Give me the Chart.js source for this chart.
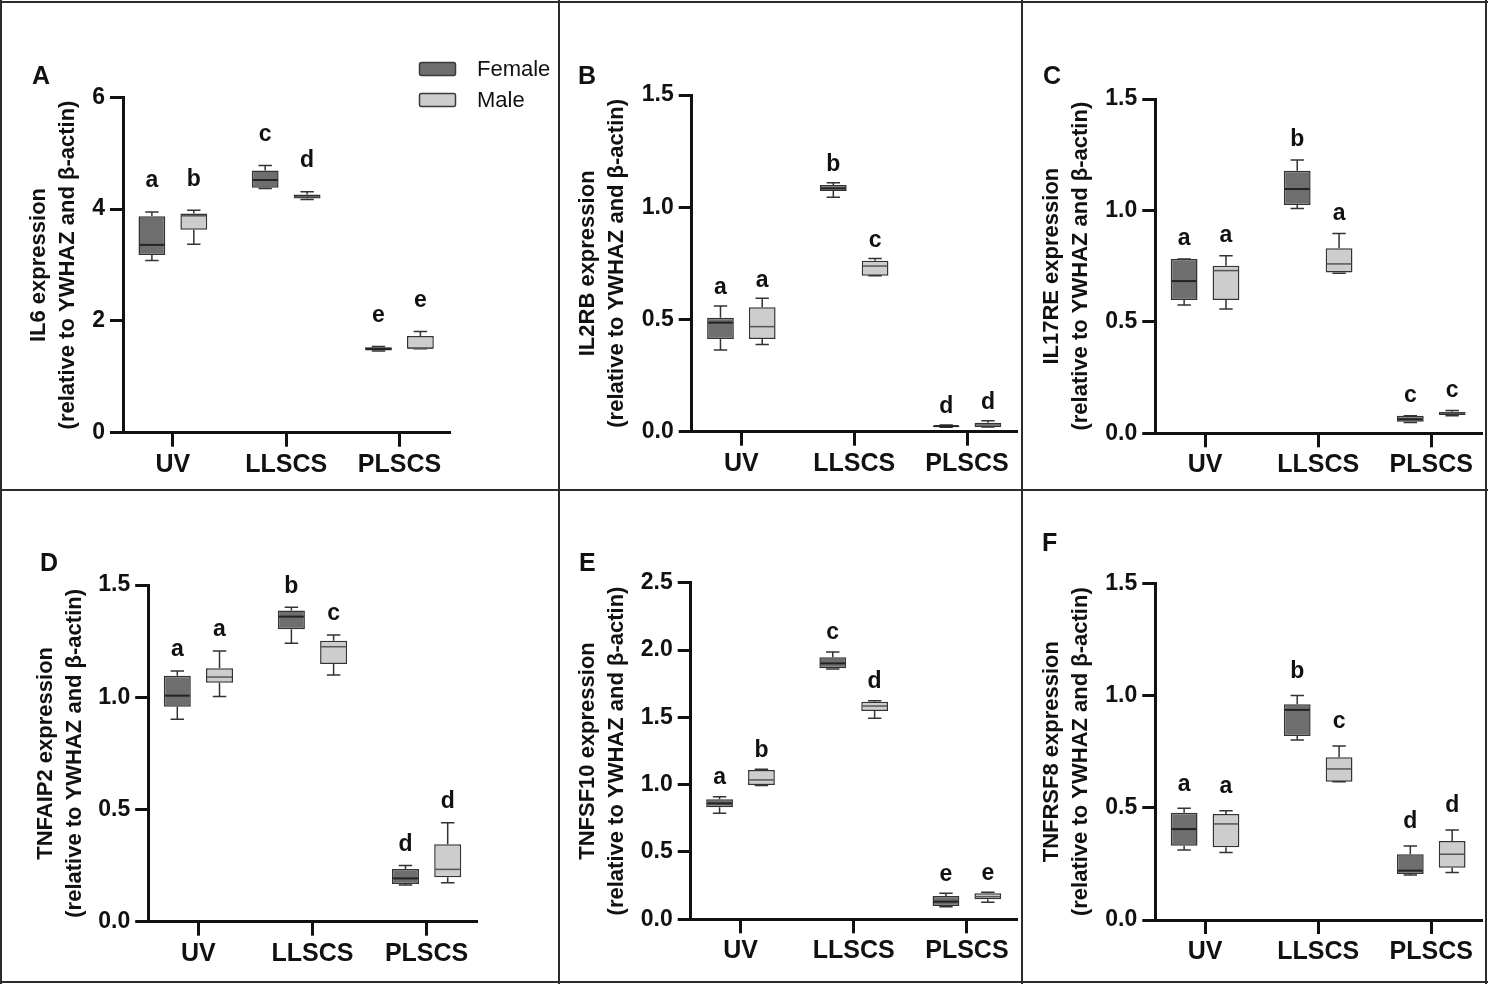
<!DOCTYPE html>
<html lang="en">
<head>
<meta charset="UTF-8">
<title>Gene expression by sex</title>
<script src="https://cdn.jsdelivr.net/npm/chart.js@4.4.1/dist/chart.umd.min.js"></script>
<style>
  body { margin: 0; background: #fff; }
  #wrap { position: relative; width: 1488px; height: 984px; overflow: hidden; font-family: "Liberation Sans", Arial, sans-serif; }
  canvas { position: absolute; }
  .line { position: absolute; background: #2b2b2b; }
  .tag { position: absolute; font-weight: bold; font-size: 25px; line-height: 26px; color: #111; }
</style>
</head>
<body>
<div id="wrap">
  <div class="line" style="left:0;top:1px;width:1488px;height:2px"></div>
  <div class="line" style="left:0;top:981px;width:1488px;height:2px"></div>
  <div class="line" style="left:0;top:0;width:2px;height:984px"></div>
  <div class="line" style="left:1485px;top:0;width:2px;height:984px"></div>
  <div class="line" style="left:558px;top:0;width:2px;height:984px"></div>
  <div class="line" style="left:1021px;top:0;width:2px;height:984px"></div>
  <div class="line" style="left:0;top:489px;width:1488px;height:2px"></div>
</div>

<script>
// groups on the x axis
const groups = ['UV', 'LLSCS', 'PLSCS'];
const seriesNames = ['Female', 'Male'];

// five-number summaries per group: [min, q1, median, q3, max]
const il6Female = [[3.08, 3.18, 3.36, 3.87, 3.95], [4.37, 4.38, 4.52, 4.69, 4.78], [1.46, 1.47, 1.50, 1.53, 1.54]];
const il6Male = [[3.37, 3.63, 3.88, 3.92, 3.98], [4.17, 4.19, 4.22, 4.26, 4.31], [1.50, 1.50, 1.51, 1.73, 1.81]];
const il6Letters = [['a', 'c', 'e'], ['b', 'd', 'e']];

const il2rbFemale = [[0.364, 0.413, 0.486, 0.508, 0.56], [1.044, 1.072, 1.084, 1.099, 1.109], [0.020, 0.021, 0.025, 0.028, 0.030]];
const il2rbMale = [[0.389, 0.413, 0.468, 0.554, 0.594], [0.695, 0.695, 0.738, 0.762, 0.772], [0.021, 0.021, 0.030, 0.040, 0.049]];
const il2rbLetters = [['a', 'b', 'd'], ['a', 'c', 'd']];

const il17reFemale = [[0.576, 0.598, 0.683, 0.782, 0.782], [1.009, 1.024, 1.096, 1.178, 1.226], [0.049, 0.052, 0.063, 0.079, 0.079]];
const il17reMale = [[0.558, 0.598, 0.730, 0.752, 0.797], [0.718, 0.722, 0.760, 0.830, 0.897], [0.079, 0.082, 0.090, 0.097, 0.102]];
const il17reLetters = [['a', 'b', 'c'], ['a', 'a', 'c']];

const tnfaip2Female = [[0.902, 0.958, 1.007, 1.096, 1.117], [1.240, 1.303, 1.359, 1.386, 1.401], [0.163, 0.168, 0.193, 0.235, 0.250]];
const tnfaip2Male = [[1.003, 1.065, 1.09, 1.129, 1.206], [1.099, 1.148, 1.225, 1.252, 1.277], [0.174, 0.198, 0.233, 0.345, 0.441]];
const tnfaip2Letters = [['a', 'b', 'd'], ['a', 'c', 'd']];

const tnfsf10Female = [[0.787, 0.832, 0.861, 0.891, 0.911], [1.859, 1.864, 1.901, 1.946, 1.985], [0.094, 0.099, 0.131, 0.173, 0.193]];
const tnfsf10Male = [[0.993, 0.998, 1.035, 1.109, 1.114], [1.493, 1.547, 1.584, 1.616, 1.624], [0.126, 0.149, 0.168, 0.193, 0.200]];
const tnfsf10Letters = [['a', 'c', 'e'], ['b', 'd', 'e']];

const tnfrsf8Female = [[0.312, 0.331, 0.405, 0.478, 0.498], [0.802, 0.82, 0.936, 0.961, 1.0], [0.20, 0.205, 0.22, 0.293, 0.330]];
const tnfrsf8Male = [[0.301, 0.324, 0.428, 0.472, 0.487], [0.616, 0.616, 0.673, 0.725, 0.775], [0.212, 0.233, 0.293, 0.352, 0.401]];
const tnfrsf8Letters = [['a', 'b', 'd'], ['a', 'c', 'd']];

// y axis ranges and tick steps
const yMax = [6, 1.5, 1.5, 1.5, 2.5, 1.5];
const yStep = [2, 0.5, 0.5, 0.5, 0.5, 0.5];

const FONT = '"Liberation Sans", Arial, sans-serif';
const femaleFill = '#6e6e6e';
const maleFill = '#cdcdcd';

// panel layout in page pixels
const panels = [
  { tag: 'A', gene: 'IL6', f: il6Female, m: il6Male, letters: il6Letters, left: 0, top: 0, w: 558, h: 489,
    axisX: 123, topY: 97.3, zeroY: 432.7, endX: 449.3, titleX: 39, gap: 31, legend: true, tagX: 32, tagY: 62 },
  { tag: 'B', gene: 'IL2RB', f: il2rbFemale, m: il2rbMale, letters: il2rbLetters, left: 560, top: 0, w: 461, h: 489,
    axisX: 691.7, topY: 95, zeroY: 431.7, endX: 1016.7, titleX: 588, gap: 18, tagX: 578, tagY: 62 },
  { tag: 'C', gene: 'IL17RE', f: il17reFemale, m: il17reMale, letters: il17reLetters, left: 1023, top: 0, w: 462, h: 489,
    axisX: 1155.3, topY: 99, zeroY: 433.3, endX: 1481, titleX: 1052, gap: 20, tagX: 1043, tagY: 62 },
  { tag: 'D', gene: 'TNFAIP2', f: tnfaip2Female, m: tnfaip2Male, letters: tnfaip2Letters, left: 0, top: 491, w: 558, h: 490,
    axisX: 148.2, topY: 585, zeroY: 921.7, endX: 476.8, titleX: 45.5, gap: 21, tagX: 40, tagY: 549 },
  { tag: 'E', gene: 'TNFSF10', f: tnfsf10Female, m: tnfsf10Male, letters: tnfsf10Letters, left: 560, top: 491, w: 461, h: 490,
    axisX: 690.7, topY: 582.7, zeroY: 919.3, endX: 1016.7, titleX: 588, gap: 19, tagX: 579, tagY: 549 },
  { tag: 'F', gene: 'TNFRSF8', f: tnfrsf8Female, m: tnfrsf8Male, letters: tnfrsf8Letters, left: 1023, top: 491, w: 462, h: 490,
    axisX: 1155.3, topY: 583.3, zeroY: 920, endX: 1481, titleX: 1052, gap: 24, tagX: 1042, tagY: 529 }
];

// whiskers, medians, significance letters and the legend
const boxPlot = {
  id: 'boxPlot',
  afterDatasetsDraw(chart, args, opts) {
    const ctx = chart.ctx;
    const y = chart.scales.y;
    chart.data.datasets.forEach((ds, d) => {
      const meta = chart.getDatasetMeta(d);
      meta.data.forEach((bar, j) => {
        const [lo, q1, med, q3, hi] = ds.stats[j];
        const { x, width } = bar.getProps(['x', 'width'], true);
        const cap = width * 0.5;
        const pHi = y.getPixelForValue(hi), pLo = y.getPixelForValue(lo);
        ctx.save();
        ctx.strokeStyle = '#333';
        ctx.lineWidth = 1.5;
        ctx.beginPath();
        ctx.moveTo(x, y.getPixelForValue(q3)); ctx.lineTo(x, pHi);
        ctx.moveTo(x - cap / 2, pHi); ctx.lineTo(x + cap / 2, pHi);
        ctx.moveTo(x, y.getPixelForValue(q1)); ctx.lineTo(x, pLo);
        ctx.moveTo(x - cap / 2, pLo); ctx.lineTo(x + cap / 2, pLo);
        ctx.stroke();

        const pMed = y.getPixelForValue(med);
        ctx.strokeStyle = ds.medianColor;
        ctx.lineWidth = ds.medianWidth;
        ctx.beginPath();
        ctx.moveTo(x - width / 2 + 1, pMed); ctx.lineTo(x + width / 2 - 1, pMed);
        ctx.stroke();

        ctx.fillStyle = '#111';
        ctx.font = 'bold 23px ' + FONT;
        ctx.textAlign = 'center';
        ctx.textBaseline = 'middle';
        ctx.fillText(ds.letters[j], x, pHi - opts.gap);
        ctx.restore();
      });
    });

    if (opts.legend) {
      ctx.save();
      chart.data.datasets.forEach((ds, d) => {
        const top = 62 + d * 31;
        ctx.fillStyle = ds.backgroundColor;
        ctx.strokeStyle = '#3a3a3a';
        ctx.lineWidth = 1.5;
        ctx.beginPath();
        ctx.roundRect(419.5, top + 0.5, 36, 13, 2);
        ctx.fill();
        ctx.stroke();
        ctx.fillStyle = '#111';
        ctx.font = '22px ' + FONT;
        ctx.textAlign = 'left';
        ctx.textBaseline = 'middle';
        ctx.fillText(ds.label, 477, top + 7.5);
      });
      ctx.restore();
    }
  }
};

const wrap = document.getElementById('wrap');

panels.forEach((p, k) => {
  const canvas = document.createElement('canvas');
  canvas.width = p.w;
  canvas.height = p.h;
  canvas.style.left = p.left + 'px';
  canvas.style.top = p.top + 'px';
  wrap.appendChild(canvas);

  const tag = document.createElement('div');
  tag.className = 'tag';
  tag.textContent = p.tag;
  tag.style.left = p.tagX + 'px';
  tag.style.top = p.tagY + 'px';
  wrap.appendChild(tag);

  const makeSet = (name, stats, fill, medColor, medWidth, letters) => ({
    label: name,
    data: stats.map((s, i) => ({ x: i, y: [s[1], s[3]] })),
    stats: stats,
    letters: letters,
    backgroundColor: fill,
    borderColor: '#333',
    borderWidth: 1.5,
    borderSkipped: false,
    medianColor: medColor,
    medianWidth: medWidth,
    categoryPercentage: 0.74,
    barPercentage: 0.64
  });

  new Chart(canvas, {
    type: 'bar',
    data: {
      datasets: [
        makeSet(seriesNames[0], p.f, femaleFill, '#222', 2, p.letters[0]),
        makeSet(seriesNames[1], p.m, maleFill, '#555', 1.5, p.letters[1])
      ]
    },
    options: {
      responsive: false,
      animation: false,
      layout: { padding: { left: 0, top: p.topY - p.top, right: p.left + p.w - p.endX, bottom: 0 } },
      plugins: {
        legend: { display: false },
        tooltip: { enabled: false },
        boxPlot: { gap: p.gap, legend: !!p.legend }
      },
      scales: {
        x: {
          type: 'linear',
          min: -0.44,
          max: 2.44,
          offset: false,
          afterBuildTicks: s => { s.ticks = groups.map((g, i) => ({ value: i })); },
          afterFit: s => { s.height = p.top + p.h - p.zeroY; },
          border: { display: true, color: '#111', width: 3 },
          grid: { offset: false, drawOnChartArea: false, tickLength: 14, lineWidth: 3, color: '#111' },
          ticks: {
            padding: 3,
            color: '#111',
            font: { family: FONT, size: 25, weight: 'bold' },
            callback: v => groups[v]
          }
        },
        y: {
          min: 0,
          max: yMax[k],
          afterFit: s => { s.width = p.axisX - p.left; },
          border: { display: true, color: '#111', width: 3 },
          grid: { drawOnChartArea: false, tickLength: 13, lineWidth: 3, color: '#111' },
          ticks: {
            stepSize: yStep[k],
            padding: 5,
            color: '#111',
            font: { family: FONT, size: 23, weight: 'bold' },
            callback: v => (yStep[k] >= 1 ? String(v) : v.toFixed(1))
          },
          title: {
            display: true,
            text: [p.gene + ' expression', '(relative to YWHAZ and \u03b2-actin)'],
            color: '#111',
            padding: { top: p.titleX - p.left - 14.5, bottom: 0 },
            font: { family: FONT, size: 22, weight: 'bold', lineHeight: 29 / 22 }
          }
        }
      }
    },
    plugins: [boxPlot]
  });
});
</script>
</body>
</html>
